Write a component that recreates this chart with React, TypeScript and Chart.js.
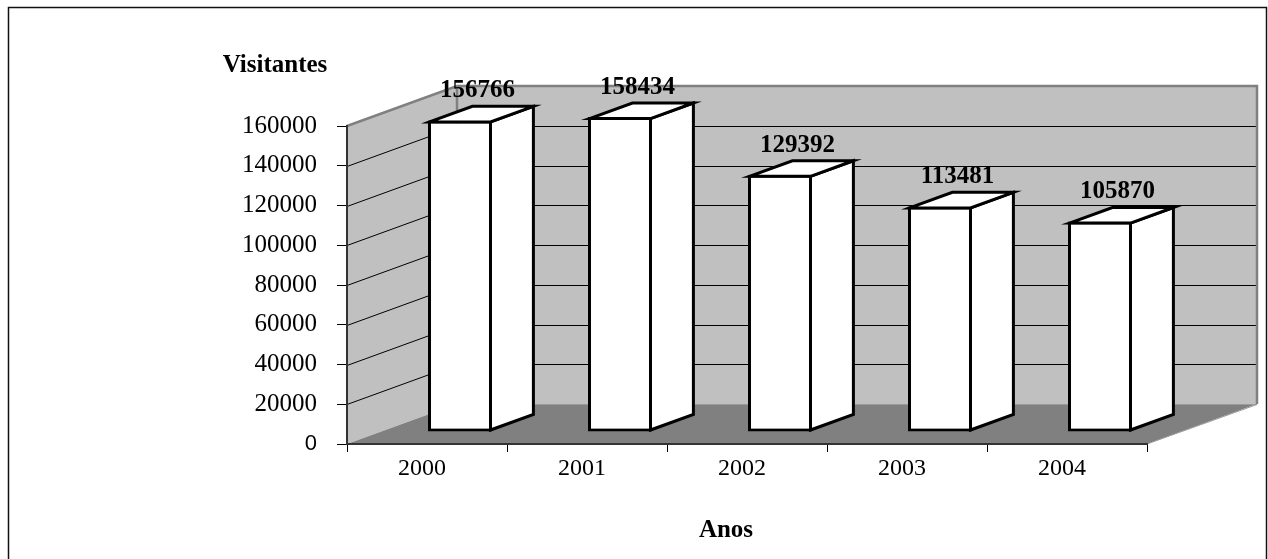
import { useEffect, useRef } from 'react';
import { Chart, registerables } from 'chart.js';

Chart.register(...registerables);

// ---- data ----
const categories = ['2000', '2001', '2002', '2003', '2004'];
const visitantes = [156766, 158434, 129392, 113481, 105870];
const yTicks = [0, 20000, 40000, 60000, 80000, 100000, 120000, 140000, 160000];
const yAxisTitle = 'Visitantes';
const xAxisTitle = 'Anos';

// ---- style ----
const SERIF = '"Liberation Serif", "Times New Roman", serif';
const SANS = '"Liberation Sans", Arial, sans-serif';
const DEPTH = { dx: 110, dy: -40 };
const BAR_FRONT = 0.3;
const BAR_DEPTH = 0.39;

function poly(ctx: CanvasRenderingContext2D, pts: number[][]) {
  ctx.beginPath();
  pts.forEach(([px, py], i) => (i ? ctx.lineTo(px, py) : ctx.moveTo(px, py)));
  ctx.closePath();
}

const scene3d = {
  id: 'scene3d',
  beforeDraw(chart: any) {
    const { ctx, chartArea: a, scales } = chart;
    const y = scales.y;
    const L = a.left, R = a.right;
    const T = y.getPixelForValue(y.max), B = y.getPixelForValue(y.min);
    const { dx, dy } = DEPTH;
    ctx.save();
    // outer frame
    ctx.strokeStyle = '#111';
    ctx.lineWidth = 1.5;
    ctx.strokeRect(8.5, 7.5, 1258, 800);
    // walls
    ctx.fillStyle = '#c0c0c0';
    poly(ctx, [[L, T], [L + dx, T + dy], [L + dx, B + dy], [L, B]]);
    ctx.fill();
    ctx.fillRect(L + dx, T + dy, R - L, B - T);
    // floor
    ctx.fillStyle = '#808080';
    poly(ctx, [[L, B], [L + dx, B + dy], [R + dx, B + dy], [R, B]]);
    ctx.fill();
    // gridlines on walls
    ctx.strokeStyle = '#000';
    ctx.lineWidth = 1;
    yTicks.forEach((v) => {
      if (v <= y.min || v >= y.max) return;
      const py = Math.round(y.getPixelForValue(v)) + 0.5;
      ctx.beginPath();
      ctx.moveTo(L, py);
      ctx.lineTo(L + dx, py + dy);
      ctx.lineTo(R + dx, py + dy);
      ctx.stroke();
    });
    // floor/back wall seam
    ctx.strokeStyle = '#9a9a9a';
    ctx.lineWidth = 1;
    ctx.beginPath();
    ctx.moveTo(L + dx, B + dy + 0.5);
    ctx.lineTo(R + dx, B + dy + 0.5);
    ctx.lineTo(R, B);
    ctx.stroke();
    // wall edges
    ctx.strokeStyle = '#808080';
    ctx.lineWidth = 2.5;
    ctx.beginPath();
    ctx.moveTo(L, T);
    ctx.lineTo(L + dx, T + dy);
    ctx.lineTo(R + dx, T + dy);
    ctx.lineTo(R + dx, B + dy);
    ctx.stroke();
    ctx.beginPath();
    ctx.moveTo(L + dx, T + dy);
    ctx.lineTo(L + dx, B + dy);
    ctx.stroke();
    ctx.restore();
  },
  beforeDatasetsDraw(chart: any) {
    const { ctx } = chart;
    ctx.save();
    ctx.translate(DEPTH.dx * BAR_FRONT, DEPTH.dy * BAR_FRONT);
  },
  afterDatasetsDraw(chart: any) {
    const { ctx } = chart;
    ctx.restore();
    const meta = chart.getDatasetMeta(0);
    const fx = DEPTH.dx * BAR_FRONT, fy = DEPTH.dy * BAR_FRONT;
    const bx = DEPTH.dx * BAR_DEPTH, by = DEPTH.dy * BAR_DEPTH;
    ctx.save();
    ctx.lineWidth = 3;
    ctx.strokeStyle = '#000';
    ctx.lineJoin = 'miter';
    meta.data.forEach((el: any, i: number) => {
      const { x, y, base, width } = el.getProps(['x', 'y', 'base', 'width'], true);
      const Lf = x - width / 2 + fx + 1.5;
      const Rf = x + width / 2 + fx - 1.5;
      const Tf = y + fy + 1.5;
      const Bf = base + fy - 1.5;
      ctx.fillStyle = '#fff';
      poly(ctx, [[Rf, Tf], [Rf + bx, Tf + by], [Rf + bx, Bf + by], [Rf, Bf]]);
      ctx.fill();
      ctx.stroke();
      poly(ctx, [[Lf, Tf], [Lf + bx, Tf + by], [Rf + bx, Tf + by], [Rf, Tf]]);
      ctx.fill();
      ctx.stroke();
      // data label
      const cx = (Lf + Rf) / 2 + bx / 2 - 4;
      const cy = Tf + by / 2 - 17;
      ctx.fillStyle = '#000';
      ctx.font = `bold 25px ${SERIF}`;
      ctx.textAlign = 'center';
      ctx.textBaseline = 'alphabetic';
      ctx.fillText(String(visitantes[i]), cx, cy);
    });
    ctx.restore();
  },
  afterDraw(chart: any) {
    const { ctx, chartArea: a } = chart;
    ctx.save();
    ctx.fillStyle = '#000';
    ctx.font = `bold 25px ${SERIF}`;
    ctx.textAlign = 'center';
    ctx.textBaseline = 'alphabetic';
    ctx.fillText(yAxisTitle, a.left - 72, a.top - 54);
    ctx.fillText(xAxisTitle, (a.left + a.right) / 2 - 21, a.bottom + 93);
    ctx.restore();
  },
};

export default function App() {
  const ref = useRef<HTMLCanvasElement>(null);
  useEffect(() => {
    const chart = new Chart(ref.current as HTMLCanvasElement, {
      type: 'bar',
      data: {
        labels: categories,
        datasets: [
          {
            label: yAxisTitle,
            data: visitantes,
            backgroundColor: '#ffffff',
            borderColor: '#000000',
            borderWidth: 3,
            borderSkipped: false,
            categoryPercentage: 1,
            barPercentage: 0.4,
            clip: false as any,
          },
        ],
      },
      options: {
        responsive: false,
        animation: false,
        events: [],
        layout: { padding: { left: 0, top: 126, right: 121, bottom: 0 } },
        plugins: {
          legend: { display: false },
          tooltip: { enabled: false },
          title: { display: false },
        },
        scales: {
          x: {
            offset: true,
            grid: { offset: true, drawOnChartArea: false, drawTicks: true, tickLength: 8, color: '#000', lineWidth: 1 },
            border: { display: true, color: '#333', width: 2 },
            ticks: {
              color: '#000',
              font: { family: SERIF, size: 24 },
              padding: 2,
              labelOffset: -5,
              maxRotation: 0,
              autoSkip: false,
            },
            afterFit: (s: any) => {
              s.height = 115;
            },
          },
          y: {
            min: 0,
            max: 160000,
            afterBuildTicks: (s: any) => {
              s.ticks = yTicks.map((v) => ({ value: v }));
            },
            grid: { drawOnChartArea: false, drawTicks: true, tickLength: 10, color: '#000', lineWidth: 1 },
            border: { display: true, color: '#333', width: 2 },
            ticks: {
              color: '#000',
              padding: 20,
              callback: (v: any) => String(v),
              font: (c: any) =>
                c.tick && c.tick.value === 0
                  ? { family: SANS, size: 22 }
                  : { family: SERIF, size: 25 },
            },
            afterFit: (s: any) => {
              s.width = 347;
            },
          },
        },
      },
      plugins: [scene3d],
    });
    return () => chart.destroy();
  }, []);
  return (
    <div style={{ position: 'fixed', left: 0, top: 0, width: 1268, height: 559, background: '#fff' }}>
      <canvas ref={ref} width={1268} height={559} style={{ display: 'block' }} />
    </div>
  );
}
